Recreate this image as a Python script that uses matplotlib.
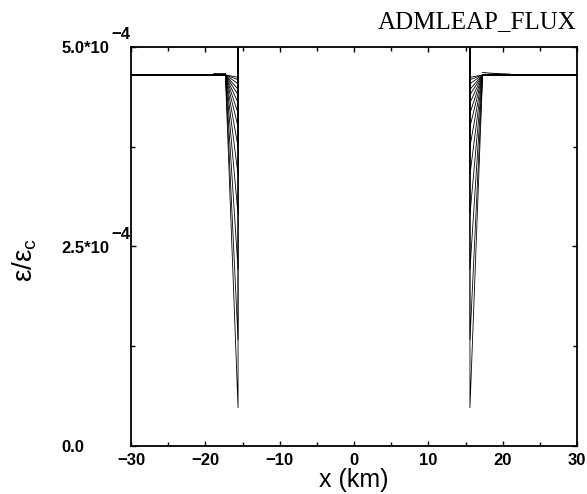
import matplotlib
matplotlib.use("Agg")
import matplotlib.pyplot as plt
from matplotlib.ticker import MultipleLocator

# profile nodes (km): flat plateau, front edge, jump above the plotted range
x_nodes = [-30.0, -17.3, -15.6, -15.6, 15.6, 15.6, 17.3, 30.0]
plateau = 4.65e-4
inner = 6.0e-4          # off the top of the plot
# value reached at the front (x = +-15.6) for each output time
front_depths = [4.62e-4, 4.59e-4, 4.54e-4, 4.47e-4, 4.40e-4, 4.30e-4, 4.17e-4,
                4.00e-4, 3.75e-4, 3.40e-4, 2.90e-4, 2.21e-4, 1.33e-4, 0.48e-4]

# small overshoot just outside the front
bump_left_x = [-19.0, -17.3]
bump_left_y = [4.67e-4, 4.67e-4]
bump_right_x = [17.3, 18.6, 21.0]
bump_right_y = [4.68e-4, 4.67e-4, 4.66e-4]

xticks = [-30, -20, -10, 0, 10, 20, 30]
xtick_labels = ["\u221230", "\u221220", "\u221210", "0", "10", "20", "30"]
yticks = [0.0, 2.5e-4, 5.0e-4]
ytick_labels = ["0.0", "2.5*10", "5.0*10"]

plt.rcParams['font.family'] = ['Liberation Sans', 'DejaVu Sans']

fig = plt.figure(figsize=(5.87, 4.94), dpi=100)
ax = fig.add_axes([131/587, 48/494, 446/587, 399/494])

for d in front_depths:
    y = [plateau, plateau, d, inner, inner, d, plateau, plateau]
    ax.plot(x_nodes, y, color='black', lw=0.6)
ax.plot(bump_left_x, bump_left_y, color='black', lw=0.6)
ax.plot(bump_right_x, bump_right_y, color='black', lw=0.7)

ax.set_xlim(-30, 30)
ax.set_ylim(0, 5.0e-4)
ax.set_xticks(xticks, labels=xtick_labels)
ax.xaxis.set_minor_locator(MultipleLocator(5))
ax.set_yticks(yticks, labels=ytick_labels)
ax.yaxis.set_minor_locator(MultipleLocator(1.25e-4))

ax.tick_params(which='both', direction='in', top=True, right=True, width=1.0)
ax.tick_params(which='major', length=3.5)
ax.tick_params(which='minor', length=3)
ax.tick_params(axis='x', labelsize=12, pad=5)
ax.tick_params(axis='y', labelsize=12, pad=50)
for lab in ax.get_yticklabels() + ax.get_xticklabels():
    lab.set_fontweight('bold')
for lab in ax.get_yticklabels():
    lab.set_horizontalalignment('left')
for sp in ax.spines.values():
    sp.set_linewidth(1.3)

# exponents of the y tick labels
for v in yticks[1:]:
    ax.annotate("\u22124", xy=(0, v), xycoords=('axes fraction', 'data'),
                xytext=(-14, 9), textcoords='offset points',
                fontsize=12, fontweight='bold', va='center', ha='left')

ax.set_xlabel("x (km)", fontsize=18, labelpad=0)
fig.text(25/587, 1 - 260/494, "\u03b5/\u03b5$_\\mathregular{c}$", rotation=90,
         fontsize=20, ha='center', va='center')
fig.text(577/587, 1 - 28/494, "ADMLEAP_FLUX", fontsize=18,
         family='Liberation Serif', ha='right', va='baseline')

plt.savefig("out.png", dpi=100)
